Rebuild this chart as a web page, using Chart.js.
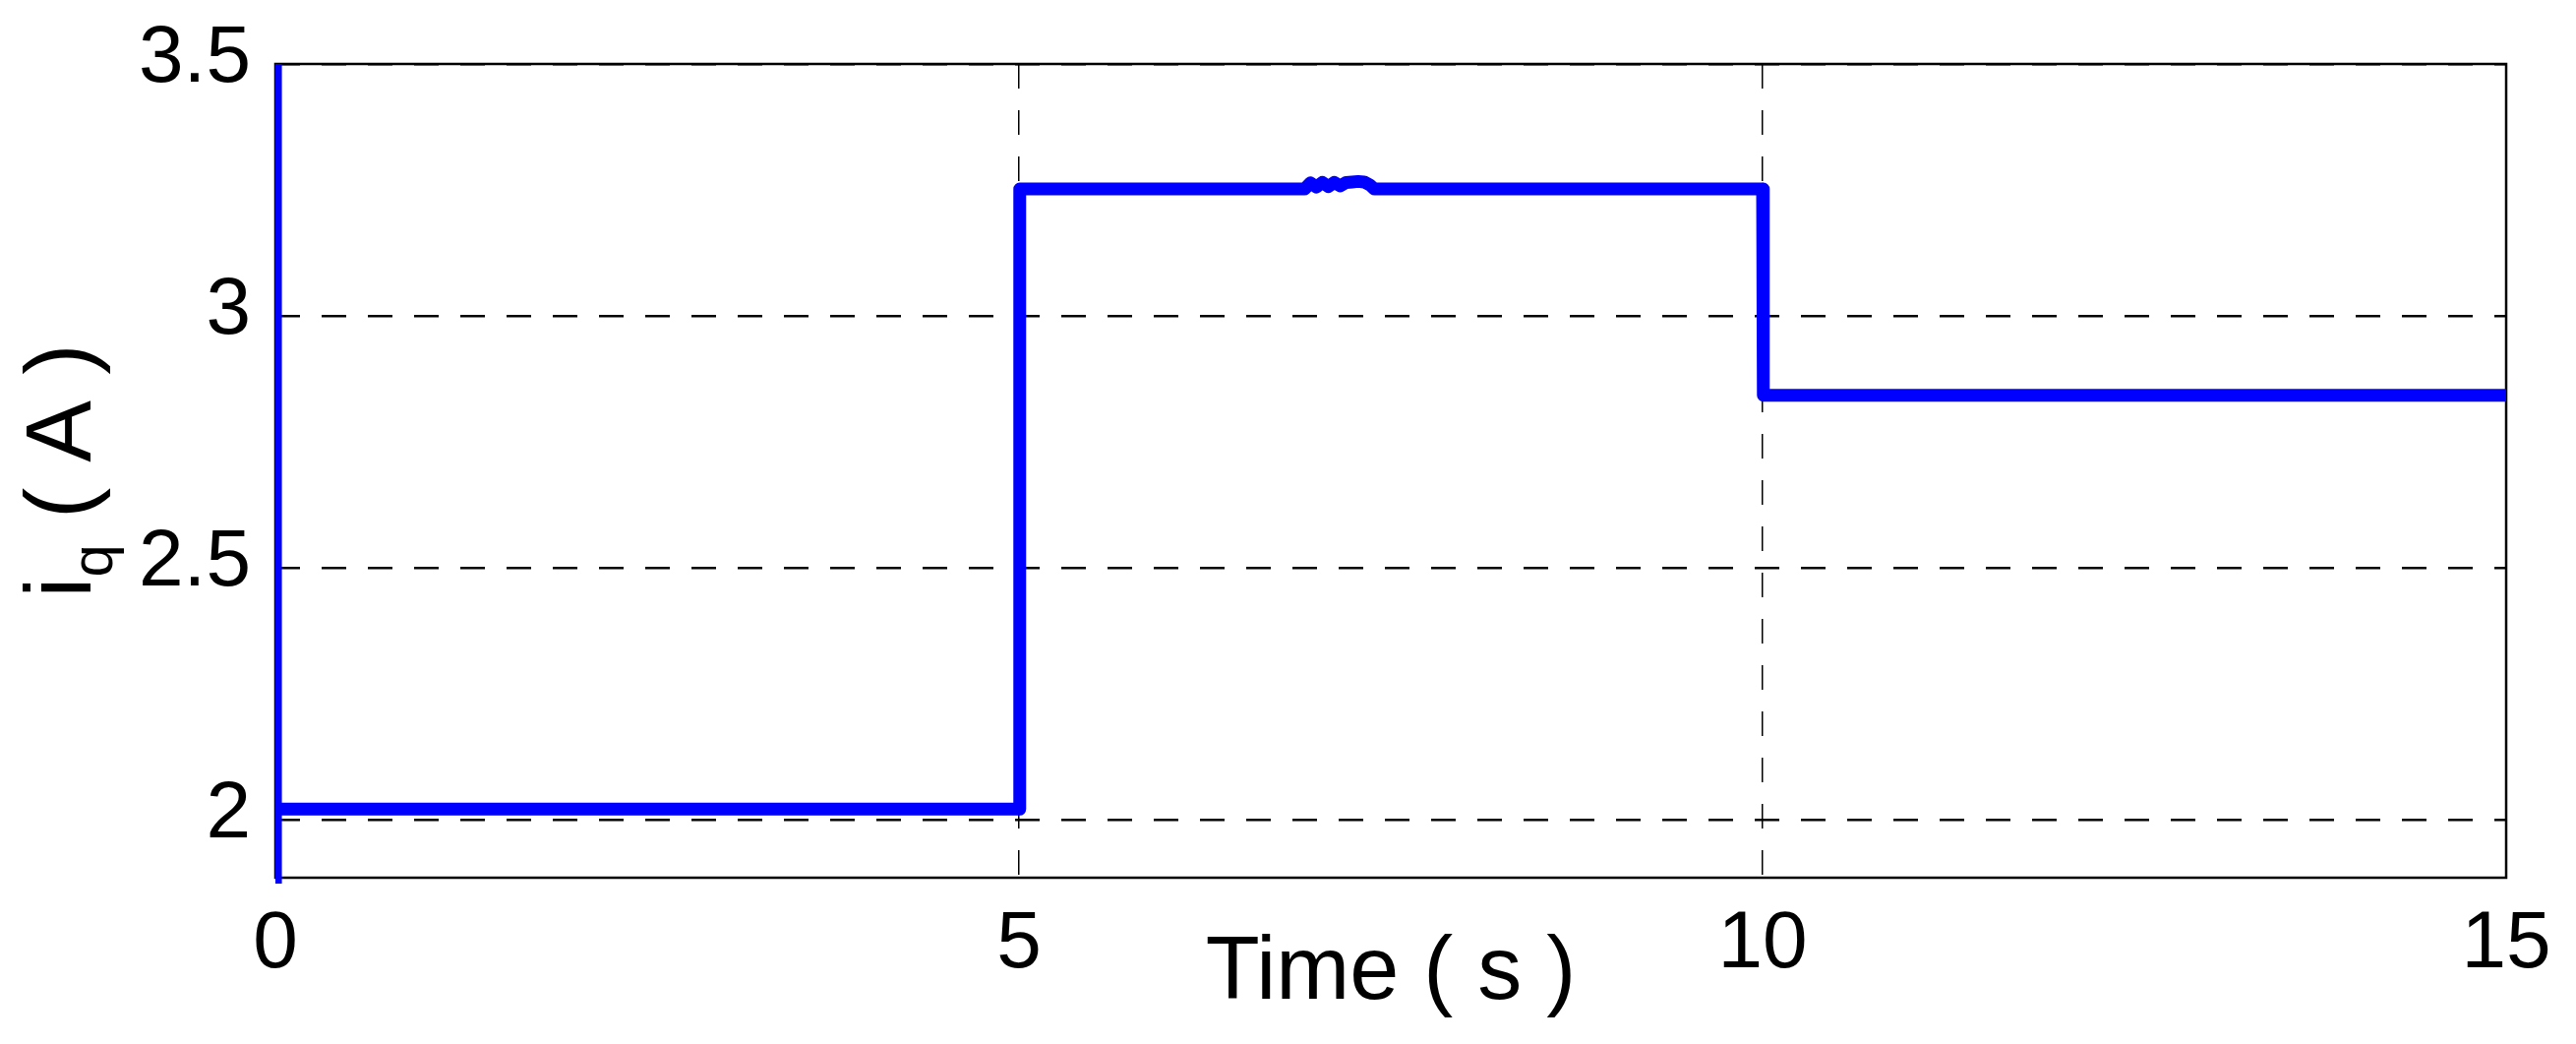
<!DOCTYPE html>
<html>
<head>
<meta charset="utf-8">
<script src="https://cdn.jsdelivr.net/npm/chart.js@4.4.0/dist/chart.umd.min.js"></script>
<style>
  html, body { margin: 0; padding: 0; background: #fff; }
  #wrap { width: 2619px; height: 1061px; }
</style>
</head>
<body>
<div id="wrap"><canvas id="iq-chart" width="2619" height="1061"></canvas></div>
<script>
  "use strict";

  // Courant iq (A) en fonction du temps (s)
  const timeValues = [
    0, 0, 0.001, 5, 5.005, 6.92, 6.96, 7.0, 7.04, 7.08, 7.12, 7.16, 7.2,
    7.24, 7.28, 7.32, 7.36, 7.39, 10, 10.005, 15,
  ];
  const iqValues = [
    3.5, 1.87, 2.022, 2.022, 3.252, 3.252, 3.264, 3.256, 3.265, 3.257, 3.265,
    3.258, 3.265, 3.266, 3.267, 3.266, 3.26, 3.252, 3.252, 2.843, 2.843,
  ];
  const xTicks = [0, 5, 10, 15];
  const yTicks = [2, 2.5, 3, 3.5];

  const FONT =
    '"Liberation Sans Narrow", "Arial Narrow", "Liberation Sans", Arial, sans-serif';

  // Cadre noir autour de la zone de tracé
  const boxPlugin = {
    id: "box",
    beforeDatasetsDraw(chart) {
      const { ctx, chartArea: a } = chart;
      ctx.save();
      ctx.strokeStyle = "#000";
      ctx.lineWidth = 2.5;
      ctx.strokeRect(a.left, a.top, a.right - a.left, a.bottom - a.top);
      ctx.restore();
    },
  };

  // Titre de l'axe Y avec indice (i_q)
  const yTitlePlugin = {
    id: "yTitle",
    afterDraw(chart) {
      const { ctx, chartArea: a } = chart;
      const big = "94px " + FONT;
      const small = "60px " + FONT;
      ctx.save();
      ctx.translate(92, (a.top + a.bottom) / 2);
      ctx.rotate(-Math.PI / 2);
      ctx.fillStyle = "#000";
      ctx.textBaseline = "alphabetic";
      ctx.font = big;
      const wi = ctx.measureText("i").width;
      const wr = ctx.measureText(" ( A )").width;
      ctx.font = small;
      const wq = ctx.measureText("q").width;
      let x = -(wi + wq + wr) / 2;
      ctx.font = big;
      ctx.fillText("i", x, 0);
      x += wi;
      ctx.font = small;
      ctx.fillText("q", x, 22);
      x += wq;
      ctx.font = big;
      ctx.fillText(" ( A )", x, 0);
      ctx.restore();
    },
  };

  const points = timeValues.map((t, i) => ({ x: t, y: iqValues[i] }));

  new Chart(document.getElementById("iq-chart"), {
    type: "line",
    data: {
      datasets: [
        {
          label: "iq",
          data: points,
          borderColor: "#0000ff",
          backgroundColor: "#0000ff",
          borderWidth: 13,
          borderJoinStyle: "round",
          pointRadius: 0,
          tension: 0,
          fill: false,
          clip: { left: 0, top: 0, right: 6, bottom: 6 },
        },
      ],
    },
    options: {
      responsive: false,
      animation: false,
      layout: { padding: { top: 65, right: 71, left: 0, bottom: 0 } },
      plugins: {
        legend: { display: false },
        tooltip: { enabled: false },
      },
      scales: {
        x: {
          type: "linear",
          min: 0,
          max: 15,
          afterFit(scale) {
            scale.height = 169;
          },
          afterBuildTicks(scale) {
            scale.ticks = xTicks.map((v) => ({ value: v }));
          },
          grid: { color: "#000", lineWidth: 1.5, drawTicks: false },
          border: { display: false, dash: [25, 22] },
          ticks: {
            color: "#000",
            font: { family: FONT, size: 82 },
            padding: 19,
            maxRotation: 0,
            autoSkip: false,
            callback: (v) => String(v),
          },
          title: {
            display: true,
            text: "Time ( s )",
            color: "#000",
            font: { family: FONT, size: 90 },
            padding: { top: 0, bottom: 17 },
          },
        },
        y: {
          type: "linear",
          min: 1.886,
          max: 3.5,
          afterFit(scale) {
            scale.width = 280;
          },
          afterBuildTicks(scale) {
            scale.ticks = yTicks.map((v) => ({ value: v }));
          },
          grid: { color: "#000", lineWidth: 2.5, drawTicks: false },
          border: { display: false, dash: [25, 22] },
          ticks: {
            color: "#000",
            font: { family: FONT, size: 82, lineHeight: 0.8 },
            padding: 25,
            labelOffset: -5,
            callback: (v) => String(v),
          },
        },
      },
    },
    plugins: [boxPlugin, yTitlePlugin],
  });
</script>
</body>
</html>
